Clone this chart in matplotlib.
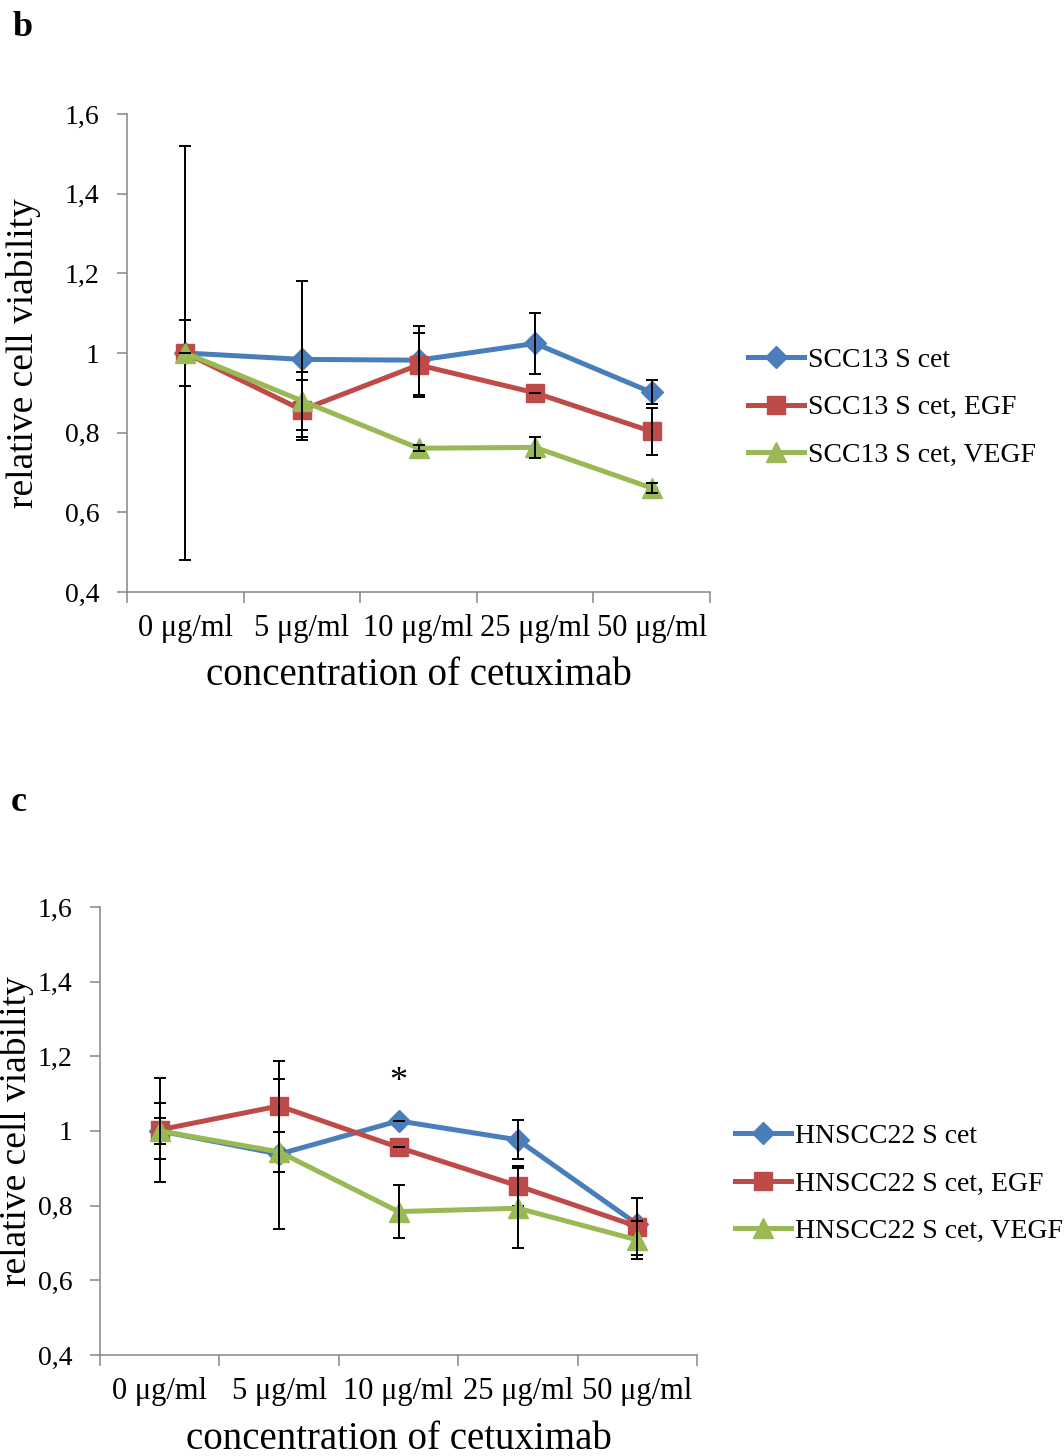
import numpy as np
import matplotlib
matplotlib.use("Agg")
import matplotlib.pyplot as plt

plt.rcParams['font.family'] = ['Liberation Serif', 'DejaVu Serif']

categories = ["0 μg/ml", "5 μg/ml", "10 μg/ml", "25 μg/ml", "50 μg/ml"]
yticks = [0.4, 0.6, 0.8, 1.0, 1.2, 1.4, 1.6]
ytick_labels = ["0,4", "0,6", "0,8", "1", "1,2", "1,4", "1,6"]

# panel b: SCC13
labels_b = ["SCC13 S cet", "SCC13 S cet, EGF", "SCC13 S cet, VEGF"]
scc13_cet = [1.0, 0.984, 0.982, 1.024, 0.901]
scc13_cet_err = [0.083, 0.196, 0.087, 0.077, 0.030]
scc13_egf = [1.0, 0.857, 0.970, 0.900, 0.803]
scc13_egf_err = [0.520, 0.075, 0.080, 0.000, 0.059]
scc13_vegf = [1.0, 0.880, 0.761, 0.763, 0.661]
scc13_vegf_err = [0.000, 0.073, 0.008, 0.026, 0.012]

# panel c: HNSCC22
labels_c = ["HNSCC22 S cet", "HNSCC22 S cet, EGF", "HNSCC22 S cet, VEGF"]
hn22_cet = [1.0, 0.938, 1.027, 0.976, 0.750]
hn22_cet_err = [0.074, 0.200, 0.000, 0.052, 0.010]
hn22_egf = [1.003, 1.067, 0.956, 0.853, 0.744]
hn22_egf_err = [0.139, 0.120, 0.000, 0.053, 0.076]
hn22_vegf = [1.0, 0.944, 0.784, 0.793, 0.708]
hn22_vegf_err = [0.034, 0.053, 0.072, 0.107, 0.050]

colors = ["#4A7EBB", "#BE4B48", "#98B954"]
markers = ["D", "s", "^"]
msizes = [11, 13, 14]
axis_gray = "#868686"


def draw_panel(ax, series, errs, labels, legend_xy):
    x = np.arange(len(categories))
    for i, (vals, err) in enumerate(zip(series, errs)):
        ax.plot(x, vals, color=colors[i], marker=markers[i], ms=msizes[i],
                lw=3.6, label=labels[i], zorder=3 + 2 * i, clip_on=False)
        ax.errorbar(x, vals, yerr=err, fmt='none', ecolor='black', elinewidth=1.4,
                    capsize=4.5, capthick=1.4, zorder=4 + 2 * i, clip_on=False)
    ax.set_xlim(-0.5, 4.5)
    ax.set_ylim(0.4, 1.6)
    ax.set_yticks(yticks)
    ax.set_yticklabels(ytick_labels)
    ax.set_xticks(np.arange(-0.5, 5, 1))
    ax.set_xticklabels([])
    ax.set_xticks(x, minor=True)
    ax.set_xticklabels(categories, minor=True)
    ax.tick_params(axis='x', which='major', direction='out', length=8, width=1.1, color=axis_gray)
    ax.tick_params(axis='x', which='minor', length=0, pad=16, labelsize=22)
    ax.tick_params(axis='y', direction='out', length=7, width=1.1, color=axis_gray, pad=13, labelsize=20)
    for s in ['top', 'right']:
        ax.spines[s].set_visible(False)
    for s in ['left', 'bottom']:
        ax.spines[s].set_color(axis_gray)
        ax.spines[s].set_linewidth(1.1)
    ax.set_xlabel("concentration of cetuximab", fontsize=28)
    ax.set_ylabel("relative cell viability", fontsize=27)
    ax.legend(loc='center left', bbox_to_anchor=legend_xy, bbox_transform=ax.figure.transFigure,
              frameon=False, fontsize=20, handlelength=2.0, handletextpad=0.15,
              labelspacing=0.8, borderpad=0, borderaxespad=0, numpoints=1)


fig = plt.figure(figsize=(10.64, 14.56), dpi=100)

ax_b = fig.add_axes([0.1194, 0.5934, 0.5479, 0.3283])
draw_panel(ax_b, [scc13_cet, scc13_egf, scc13_vegf],
           [scc13_cet_err, scc13_egf_err, scc13_vegf_err], labels_b, (0.703, 0.72))
ax_b.yaxis.set_label_coords(-0.148, 0.5)
ax_b.xaxis.set_label_coords(0.5, -0.135)

ax_c = fig.add_axes([0.094, 0.0694, 0.5611, 0.3077])
draw_panel(ax_c, [hn22_cet, hn22_egf, hn22_vegf],
           [hn22_cet_err, hn22_egf_err, hn22_vegf_err], labels_c, (0.691, 0.187))
ax_c.yaxis.set_label_coords(-0.11, 0.5)
ax_c.xaxis.set_label_coords(0.5, -0.148)
ax_c.annotate("*", xy=(2, hn22_cet[2]), xytext=(0, 16), textcoords='offset points',
              ha='center', va='bottom', fontsize=26)

fig.text(0.012, 0.981, "b", fontsize=26, fontweight='bold', va='center')
fig.text(0.010, 0.449, "c", fontsize=26, fontweight='bold', va='center')

fig.savefig("out.png", dpi=100)
